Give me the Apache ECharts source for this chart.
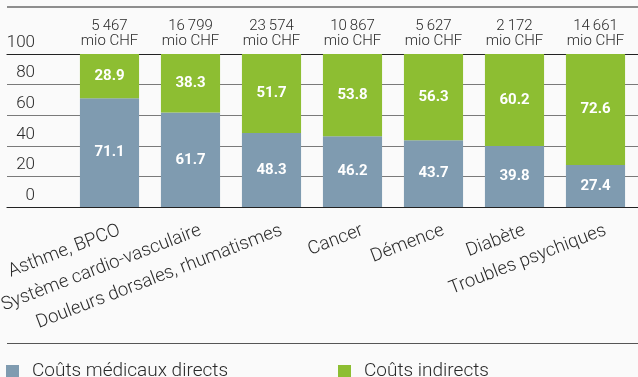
<!DOCTYPE html>
<html>
<head>
<meta charset="utf-8">
<script src="https://cdn.jsdelivr.net/npm/echarts@6/dist/echarts.min.js"></script>
<style>
  html, body { margin: 0; padding: 0; background: #fafafa; }
  #chart { width: 638px; height: 377px; }
</style>
</head>
<body>
<div id="chart"></div>
<script>
// Cost categories (French labels)
const categories = [
  'Asthme, BPCO',
  'Système cardio-vasculaire',
  'Douleurs dorsales, rhumatismes',
  'Cancer',
  'Démence',
  'Diabète',
  'Troubles psychiques'
];
// Total cost per category, in millions of CHF
const totalsMioChf = [5467, 16799, 23574, 10867, 5627, 2172, 14661];
// Share of direct medical costs (%)
const directCosts = [71.1, 61.7, 48.3, 46.2, 43.7, 39.8, 27.4];
// Share of indirect costs (%)
const indirectCosts = [28.9, 38.3, 51.7, 53.8, 56.3, 60.2, 72.6];
// Percentage axis ticks
const yTicks = [0, 20, 40, 60, 80, 100];

const seriesNames = ['Coûts médicaux directs', 'Coûts indirects'];
const BLUE = '#7f9bb0';
const GREEN = '#8dbe32';
const TEXT = '#2a2a2a';
const FONT = 'Roboto, "Liberation Sans", sans-serif';

// thousands separator as a thin space: 16799 -> "16 799"
function fmtThousands(v) {
  return String(v).replace(/\B(?=(\d{3})+(?!\d))/g, '\u2009');
}

const chart = echarts.init(document.getElementById('chart'), null, { renderer: 'canvas' });

const barLabel = {
  show: true,
  position: 'inside',
  color: '#ffffff',
  fontFamily: FONT,
  fontWeight: 'bold',
  fontSize: 15,
  formatter: p => p.value.toFixed(1)
};

const legendText = { fontFamily: FONT, fontWeight: 300, fontSize: 19, color: TEXT, padding: [0, 0, 0, 8] };
const gridBox = { top: 54, bottom: 170, containLabel: false, outerBoundsMode: 'none' };

chart.setOption({
  backgroundColor: '#fafafa',
  animation: false,
  graphic: [
    // separators above the header and above the legend
    { type: 'line', shape: { x1: 7, y1: 7, x2: 638, y2: 7 }, style: { stroke: '#222', lineWidth: 1.2 } },
    { type: 'line', shape: { x1: 7, y1: 343.5, x2: 638, y2: 343.5 }, style: { stroke: '#555', lineWidth: 1.2 } }
  ],
  grid: [
    // full-width grid carrying the percentage scale and its rules
    Object.assign({ left: 7, right: 0 }, gridBox),
    // grid for the bars
    Object.assign({ left: 69, right: 2 }, gridBox),
    // slanted category names, nudged a little to the right of the bar centres
    Object.assign({ left: 79, right: -8 }, gridBox)
  ],
  legend: [
    {
      left: 6, top: 362, padding: 0,
      itemWidth: 13, itemHeight: 13, icon: 'rect',
      data: [seriesNames[0]],
      textStyle: legendText
    },
    {
      left: 338, top: 362, padding: 0,
      itemWidth: 13, itemHeight: 13, icon: 'rect',
      data: [seriesNames[1]],
      textStyle: legendText
    }
  ],
  xAxis: [
    // bottom rule of the scale (0 line)
    {
      gridIndex: 0, type: 'category', data: [''], position: 'bottom',
      axisLine: { show: true, lineStyle: { color: '#222', width: 1.2 } },
      axisTick: { show: false }, axisLabel: { show: false }, splitLine: { show: false }
    },
    // top rule of the scale (100 line)
    {
      gridIndex: 0, type: 'category', data: [''], position: 'top',
      axisLine: { show: true, lineStyle: { color: '#222', width: 1.2 } },
      axisTick: { show: false }, axisLabel: { show: false }, splitLine: { show: false }
    },
    // category axis of the bars
    {
      gridIndex: 1, type: 'category', data: categories, position: 'bottom',
      axisLine: { show: false }, axisTick: { show: false }, axisLabel: { show: false }
    },
    // totals above the bars
    {
      gridIndex: 1, type: 'category', position: 'top',
      data: totalsMioChf.map(v => fmtThousands(v) + '\nmio CHF'),
      axisLine: { show: false }, axisTick: { show: false },
      axisLabel: {
        interval: 0, margin: 5, lineHeight: 15,
        fontFamily: FONT, fontWeight: 300, fontSize: 15, color: TEXT
      }
    },
    // category names
    {
      gridIndex: 2, type: 'category', data: categories, position: 'bottom',
      axisLine: { show: false }, axisTick: { show: false },
      axisLabel: {
        rotate: 21, margin: 23, interval: 0,
        fontFamily: FONT, fontWeight: 300, fontSize: 18.5, color: TEXT
      }
    }
  ],
  yAxis: [
    {
      gridIndex: 0, type: 'value', min: yTicks[0], max: yTicks[yTicks.length - 1], interval: 20,
      axisLine: { show: false }, axisTick: { show: false },
      splitLine: { show: true, showMinLine: false, showMaxLine: false, lineStyle: { color: '#7a7a7a', width: 1.2 } },
      axisLabel: {
        inside: true, align: 'right', verticalAlign: 'bottom', margin: 28,
        padding: [0, 0, 3, 0],
        fontFamily: FONT, fontWeight: 300, fontSize: 17, color: TEXT,
        customValues: yTicks
      }
    },
    {
      gridIndex: 1, type: 'value', min: 0, max: 100, interval: 20, show: false,
      splitLine: { show: false }
    },
    {
      gridIndex: 2, type: 'value', min: 0, max: 100, interval: 20, show: false,
      splitLine: { show: false }
    }
  ],
  series: [
    {
      name: seriesNames[0], type: 'bar', stack: 'share',
      xAxisIndex: 2, yAxisIndex: 1,
      data: directCosts, barWidth: '73%',
      itemStyle: { color: BLUE },
      label: barLabel
    },
    {
      name: seriesNames[1], type: 'bar', stack: 'share',
      xAxisIndex: 2, yAxisIndex: 1,
      data: indirectCosts, barWidth: '73%',
      itemStyle: { color: GREEN },
      label: barLabel
    }
  ]
});
</script>
</body>
</html>
